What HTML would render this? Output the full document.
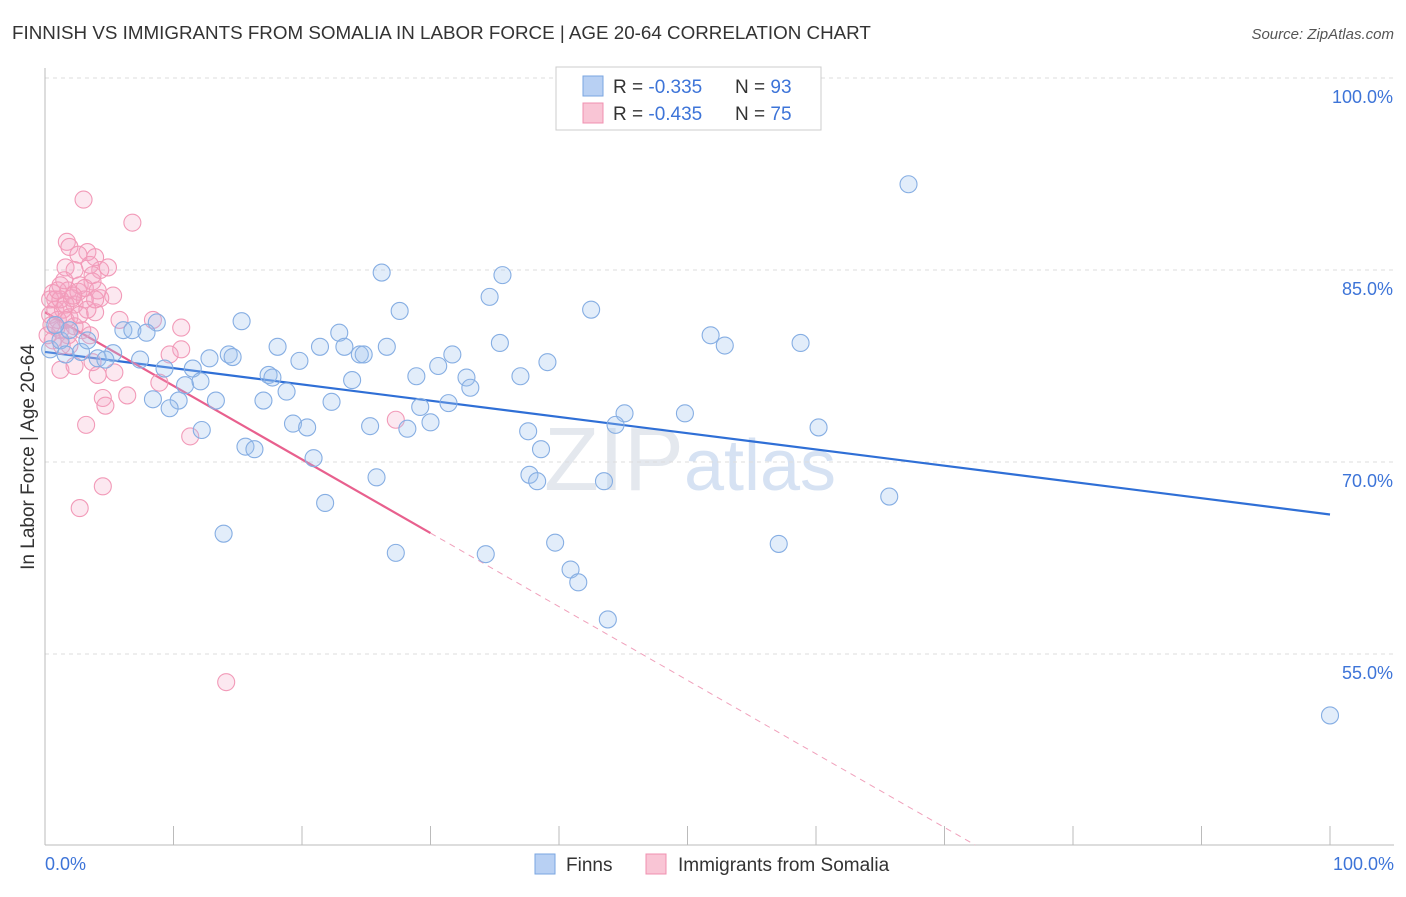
<!DOCTYPE html>
<html><head><meta charset="utf-8"><style>
body{margin:0;background:#fff;font-family:"Liberation Sans",sans-serif;}
svg text{font-family:"Liberation Sans",sans-serif;}
</style></head><body>
<svg id="chart" width="1406" height="892" xmlns="http://www.w3.org/2000/svg">
<text x="12" y="39" font-size="18.8" fill="#333">FINNISH VS IMMIGRANTS FROM SOMALIA IN LABOR FORCE | AGE 20-64 CORRELATION CHART</text>
<text x="1394" y="39" font-size="15" fill="#555" text-anchor="end" font-style="italic">Source: ZipAtlas.com</text>
<text x="690" y="490" font-size="90" fill="#e4e8ee" text-anchor="middle" font-family="Liberation Serif">ZIP<tspan fill="#d6e2f3" font-family="Liberation Sans" font-size="72">atlas</tspan></text>
<g id="grid"></g>
<g id="axes"></g>
<g id="lines"></g>
<g id="pts"></g>
<text transform="translate(34,457) rotate(-90)" font-size="19" fill="#333" text-anchor="middle">In Labor Force | Age 20-64</text>
<g>
<rect x="556" y="67" width="265" height="63" fill="#fff" stroke="#ccc"/>
<rect x="583" y="76" width="20" height="20" fill="#b8d0f3" stroke="#7aa6e0"/>
<rect x="583" y="103" width="20" height="20" fill="#f9c5d5" stroke="#f090b0"/>
<text x="613" y="93" font-size="19" fill="#333">R = <tspan fill="#3d74d8">-0.335</tspan></text>
<text x="735" y="93" font-size="19" fill="#333">N = <tspan fill="#3d74d8">93</tspan></text>
<text x="613" y="120" font-size="19" fill="#333">R = <tspan fill="#3d74d8">-0.435</tspan></text>
<text x="735" y="120" font-size="19" fill="#333">N = <tspan fill="#3d74d8">75</tspan></text>
</g>
<g>
<rect x="535" y="854" width="20" height="20" fill="#b8d0f3" stroke="#7aa6e0"/>
<text x="566" y="871" font-size="19" fill="#333">Finns</text>
<rect x="646" y="854" width="20" height="20" fill="#f9c5d5" stroke="#f090b0"/>
<text x="678" y="871" font-size="19" fill="#333">Immigrants from Somalia</text>
</g>
</svg>
<script>
const yTicks=[100,85,70,55];
const xTickLabels=["0.0%","100.0%"];
const finnsX=[67.2,46.7,26.2,35.6,34.6,27.6,42.5,15.3,8.7,6.1,6.8,7.9,22.9,51.8,52.9,58.8,18.1,21.4,23.3,26.6,35.4,24.5,24.8,2.8,5.3,4.1,4.7,7.4,12.8,14.3,14.6,19.8,31.7,39.1,30.6,9.3,11.5,17.4,17.7,23.9,28.9,32.8,37.0,10.9,12.1,18.8,33.1,8.4,10.4,13.3,17.0,22.3,29.2,31.4,9.7,45.1,49.8,19.3,20.4,25.3,28.2,30.0,12.2,37.6,44.4,60.2,15.6,16.3,38.6,20.9,25.8,37.7,38.3,43.5,65.7,21.8,13.9,39.7,57.1,27.3,34.3,40.9,41.5,43.8,100,0.4,1.2,1.9,0.8,3.3,1.6];
const finnsY=[91.7,100,84.8,84.6,82.9,81.8,81.9,81.0,80.9,80.3,80.3,80.1,80.1,79.9,79.1,79.3,79.0,79.0,79.0,79.0,79.3,78.4,78.4,78.6,78.5,78.1,78.0,78.0,78.1,78.4,78.2,77.9,78.4,77.8,77.5,77.3,77.3,76.8,76.6,76.4,76.7,76.6,76.7,76.0,76.3,75.5,75.8,74.9,74.8,74.8,74.8,74.7,74.3,74.6,74.2,73.8,73.8,73.0,72.7,72.8,72.6,73.1,72.5,72.4,72.9,72.7,71.2,71.0,71.0,70.3,68.8,69.0,68.5,68.5,67.3,66.8,64.4,63.7,63.6,62.9,62.8,61.6,60.6,57.7,50.2,78.8,79.5,80.3,80.7,79.5,78.4];
const somX=[3.0,6.8,1.7,1.9,3.3,2.6,3.9,1.6,2.3,4.3,3.5,2.7,1.2,3.7,1.8,0.6,5.3,4.3,3.1,0.8,2.3,1.4,3.9,0.4,1.0,1.9,5.8,8.4,10.6,1.2,1.8,3.5,0.6,1.9,10.6,9.7,3.7,5.4,4.1,1.2,2.3,8.9,6.4,4.5,4.7,3.2,27.3,11.3,4.5,2.7,14.1,0.4,0.8,1.2,1.6,2.1,2.6,3.1,3.7,0.9,1.3,0.2,0.5,1.6,2.9,2.3,3.3,1.0,1.5,4.1,4.9,2.2,2.7,3.9];
const somY=[90.5,88.7,87.2,86.8,86.4,86.2,86.0,85.2,85.0,85.0,85.4,83.8,83.8,84.1,83.4,83.2,83.0,82.8,82.7,82.7,82.3,81.9,81.7,81.5,81.1,81.3,81.1,81.1,80.5,80.3,79.9,79.9,79.5,79.1,78.8,78.4,77.8,77.0,76.8,77.2,77.5,76.2,75.2,75.0,74.4,72.9,73.3,72.0,68.1,66.4,52.8,82.7,81.9,82.7,81.1,82.8,83.3,83.6,84.6,80.5,79.1,79.9,80.7,82.3,80.3,80.6,81.9,83.4,84.2,83.4,85.2,83.0,81.5,82.7];
const finnsTrend=[78.6,65.9];
const somTrend=[81.7,24.2];
const somSolidEnd=30;
const NS="http://www.w3.org/2000/svg";
const X0=45,X1=1330,Y100=78,PXPER=12.8,BOTTOM=845;
const sx=v=>X0+(X1-X0)*v/100;
const sy=v=>Y100+(100-v)*PXPER;
function mk(tag,attrs,parent){const e=document.createElementNS(NS,tag);for(const k in attrs)e.setAttribute(k,attrs[k]);parent.appendChild(e);return e;}
const grid=document.getElementById('grid'),axes=document.getElementById('axes'),lines=document.getElementById('lines'),pts=document.getElementById('pts');
yTicks.forEach(t=>{
 const l=mk('line',{x1:X0,x2:1394,y1:sy(t),y2:sy(t),stroke:'#ddd','stroke-dasharray':'4,4'},grid);
 
 
 const tx=mk('text',{x:1393,y:sy(t)+25,'font-size':18,fill:'#3d74d8','text-anchor':'end'},grid);
 tx.textContent=t.toFixed(1)+'%';
 
 
});
const ax=mk('line',{x1:X0,x2:X0,y1:68,y2:BOTTOM,stroke:'#bbb'},axes);


const bx=mk('line',{x1:X0,x2:1394,y1:BOTTOM,y2:BOTTOM,stroke:'#bbb'},axes);


for(let i=0;i<=10;i++){
 const t=mk('line',{x1:sx(i*10),x2:sx(i*10),y1:826,y2:BOTTOM,stroke:'#bbb'},axes);
 
 
}
[[0,'start',45],[100,'end',1394]].forEach((a,i)=>{
 const t=mk('text',{x:a[2],y:870,'font-size':18,fill:'#3d74d8','text-anchor':a[1]},axes);
 t.textContent=xTickLabels[i];
 
 
});
function dots(xs,ys,fill,stroke,name){
 xs.forEach((x,i)=>{
  const c=mk('circle',{cx:sx(x),cy:sy(ys[i]),r:8.5,fill:fill,stroke:stroke,'stroke-width':1.1},pts);
  
  
 });
}
dots(somX,somY,'rgba(245,165,195,0.25)','#f29ab8','somalia-point');
dots(finnsX,finnsY,'rgba(160,195,240,0.3)','#86aee3','finns-point');
const fl=mk('line',{x1:sx(0),y1:sy(finnsTrend[0]),x2:sx(100),y2:sy(finnsTrend[1]),stroke:'#2f6fd6','stroke-width':2.2},lines);


const slope=(somTrend[1]-somTrend[0])/100;
const ym=somTrend[0]+slope*somSolidEnd;
const sl=mk('line',{x1:sx(0),y1:sy(somTrend[0]),x2:sx(somSolidEnd),y2:sy(ym),stroke:'#e8608e','stroke-width':2.2},lines);


const yb=100-(BOTTOM-Y100)/PXPER;
const xe=(yb-somTrend[0])/slope;
const sd=mk('line',{x1:sx(somSolidEnd),y1:sy(ym),x2:sx(xe),y2:BOTTOM,stroke:'#f0a0bb','stroke-width':1,'stroke-dasharray':'6,5'},lines);


</script>
</body></html>
